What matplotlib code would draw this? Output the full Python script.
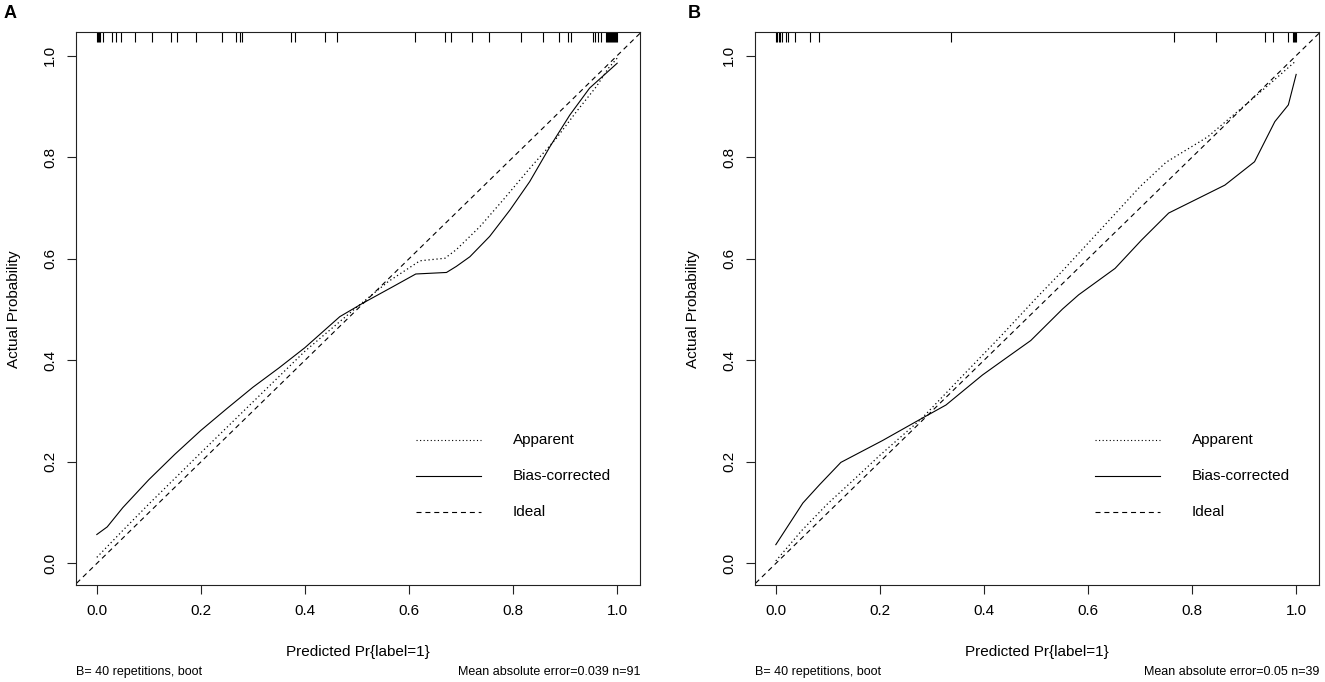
import matplotlib.pyplot as plt
import matplotlib.transforms as mtransforms

plt.rcParams['font.family'] = ['Liberation Sans', 'DejaVu Sans']

# panel A (B=40 bootstrap, n=91)
a_app_x = [0.0, 0.05, 0.1, 0.2, 0.3, 0.4, 0.5, 0.56, 0.621, 0.669, 0.691, 0.736, 0.781, 0.832, 0.883, 0.922, 0.96, 0.983, 1.0]
a_app_y = [0.012, 0.065, 0.117, 0.218, 0.318, 0.418, 0.505, 0.555, 0.596, 0.601, 0.618, 0.663, 0.716, 0.778, 0.837, 0.890, 0.939, 0.975, 0.995]
a_bias_x = [0.0, 0.02, 0.05, 0.1, 0.15, 0.2, 0.25, 0.3, 0.35, 0.4, 0.467, 0.512, 0.569, 0.613, 0.672, 0.691,
            0.717, 0.755, 0.794, 0.832, 0.871, 0.909, 0.947, 1.0]
a_bias_y = [0.057, 0.072, 0.11, 0.165, 0.215, 0.262, 0.305, 0.347, 0.385, 0.425, 0.486, 0.513, 0.545, 0.570, 0.573, 0.585,
            0.604, 0.644, 0.696, 0.752, 0.821, 0.883, 0.936, 0.985]
a_rug = [0.0, 0.002, 0.004, 0.007, 0.011, 0.030, 0.037, 0.046, 0.074, 0.106, 0.142, 0.155, 0.190, 0.241, 0.267,
         0.276, 0.279, 0.373, 0.381, 0.439, 0.462, 0.611, 0.670, 0.681, 0.721, 0.753, 0.815, 0.857, 0.888, 0.905,
         0.912, 0.953, 0.958, 0.963, 0.968, 0.978, 0.980, 0.982, 0.984, 0.986, 0.988, 0.990, 0.992, 0.994, 0.996,
         0.998, 1.0]
a_note = 'Mean absolute error=0.039 n=91'

# panel B (B=40 bootstrap, n=39)
b_app_x = [0.0, 0.05, 0.1, 0.15, 0.2, 0.28, 0.35, 0.43, 0.5, 0.55, 0.613, 0.70, 0.75, 0.83, 0.907, 0.95, 1.0]
b_app_y = [0.005, 0.065, 0.118, 0.165, 0.213, 0.285, 0.36, 0.445, 0.522, 0.575, 0.645, 0.742, 0.79, 0.84, 0.907, 0.945, 0.99]
b_bias_x = [0.0, 0.052, 0.084, 0.125, 0.205, 0.276, 0.327, 0.397, 0.442, 0.49, 0.551, 0.582, 0.652, 0.703, 0.755,
            0.812, 0.863, 0.92, 0.959, 0.985, 1.0]
b_bias_y = [0.037, 0.119, 0.155, 0.199, 0.242, 0.283, 0.312, 0.371, 0.404, 0.439, 0.501, 0.529, 0.581, 0.637, 0.690,
            0.719, 0.745, 0.791, 0.870, 0.903, 0.963]
b_rug = [0.0, 0.003, 0.006, 0.009, 0.012, 0.020, 0.023, 0.037, 0.065, 0.083, 0.336, 0.766, 0.846, 0.940, 0.955,
         0.985, 0.993, 0.996, 0.998, 1.0]
b_note = 'Mean absolute error=0.05 n=39'

legend_labels = ['Apparent', 'Bias-corrected', 'Ideal']
ticks = [0.0, 0.2, 0.4, 0.6, 0.8, 1.0]

DOT = (0, (1, 2.2))
DASH = (0, (4.5, 3.5))
narrow = ['Liberation Sans Narrow', 'Liberation Sans']

fig = plt.figure(figsize=(13.25, 6.82), dpi=100)


def panel(left, app_x, app_y, bias_x, bias_y, rug, note, letter, letter_x):
    ax = fig.add_axes([left, 0.1418, 0.4257, 0.8109])
    ax.set_xlim(-0.04, 1.044)
    ax.set_ylim(-0.043, 1.046)

    ax.plot([-0.1, 1.1], [-0.1, 1.1], color='black', lw=0.8, linestyle=DASH)
    ax.plot(app_x, app_y, color='black', lw=0.9, linestyle=DOT)
    ax.plot(bias_x, bias_y, color='black', lw=0.8)

    # rug of predicted probabilities along the top
    trans = mtransforms.blended_transform_factory(ax.transData, ax.transAxes)
    ax.vlines(rug, 0.982, 1.0, transform=trans, color='black', lw=0.8)

    # legend drawn R-style
    styles = [DOT, '-', DASH]
    rows = [0.2435, 0.1727, 0.1018]
    for lab, ls, yy in zip(legend_labels, styles, rows):
        ax.plot([0.613, 0.738], [yy, yy], color='black', lw=0.8, linestyle=ls)
        ax.text(0.799, yy, lab, fontsize=11, va='center', ha='left')

    ax.set_xticks(ticks)
    ax.set_yticks(ticks)
    ax.set_xticklabels(['%.1f' % t for t in ticks])
    ax.set_yticklabels(['%.1f' % t for t in ticks], rotation=90, va='center')
    ax.tick_params(length=6.5, width=0.8, labelsize=11, color='#222222')
    ax.tick_params(axis='x', pad=7)
    ax.tick_params(axis='y', pad=7)
    for s in ax.spines.values():
        s.set_linewidth(0.8)
        s.set_color('#222222')

    pos = ax.get_position()
    cx = (pos.x0 + pos.x1) / 2
    fig.text(cx, 1 - 652 / 682, 'Predicted Pr{label=1}', fontsize=11, ha='center', va='center')
    fig.text(pos.x0 - 62 / 1325, (pos.y0 + pos.y1) / 2, 'Actual Probability', fontsize=11,
             rotation=90, ha='center', va='center')
    fig.text(pos.x0, 1 - 672 / 682, 'B= 40 repetitions, boot', fontsize=9, family=narrow,
             ha='left', va='center')
    fig.text(pos.x1, 1 - 672 / 682, note, fontsize=9, family=narrow, ha='right', va='center')
    fig.text(letter_x, 1 - 14 / 682, letter, fontsize=13, fontweight='bold', ha='left', va='center')
    return ax


panel(76 / 1325, a_app_x, a_app_y, a_bias_x, a_bias_y, a_rug, a_note, 'A', 4 / 1325)
panel(755 / 1325, b_app_x, b_app_y, b_bias_x, b_bias_y, b_rug, b_note, 'B', 688 / 1325)

fig.savefig('out.png', dpi=100)
